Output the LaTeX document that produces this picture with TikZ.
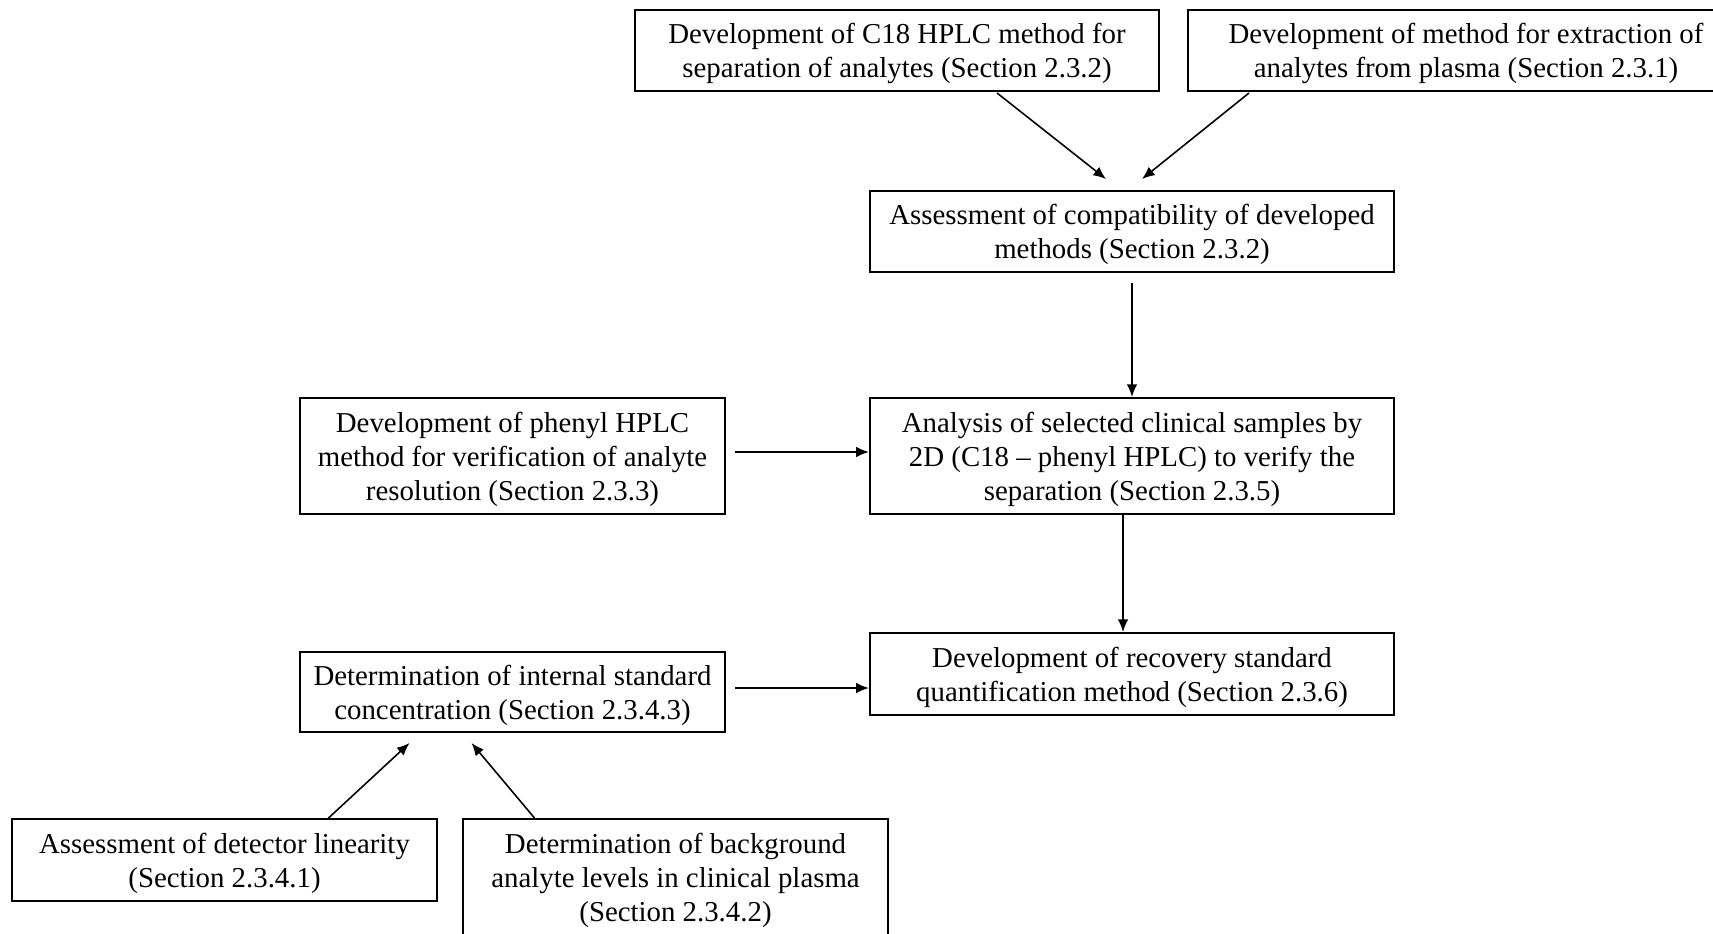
\documentclass[tikz,border=0pt]{standalone}
\usepackage{fontspec}
\setmainfont{Liberation Serif}
\usetikzlibrary{arrows.meta,calc}

\begin{document}
\begin{tikzpicture}[x=0.01cm,y=-0.01cm,>={Latex[length=3.6pt,width=3pt]},
  box/.style={draw,line width=0.55pt,align=center,inner sep=0pt,text depth=0pt,
    font=\fontsize{8.2}{9.7}\selectfont},
  link/.style={->,line width=0.45pt}]
\useasboundingbox (0,0) rectangle (1713,933);

\node[box,minimum width=5.24cm,minimum height=0.81cm] (c18) at (897,50.5)
  {Development of C18 HPLC method for\\separation of analytes (Section 2.3.2)};
\node[box,minimum width=5.56cm,minimum height=0.81cm] (extr) at (1466,50.5)
  {Development of method for extraction of\\analytes from plasma (Section 2.3.1)};
\node[box,minimum width=5.24cm,minimum height=0.81cm] (comp) at (1132,231.5)
  {Assessment of compatibility of developed\\methods (Section 2.3.2)};
\node[box,minimum width=4.25cm,minimum height=1.16cm] (phen) at (512.5,456)
  {Development of phenyl HPLC\\method for verification of analyte\\resolution (Section 2.3.3)};
\node[box,minimum width=5.24cm,minimum height=1.16cm] (anal) at (1132,456)
  {Analysis of selected clinical samples by\\2D (C18 -- phenyl HPLC) to verify the\\separation (Section 2.3.5)};
\node[box,minimum width=4.25cm,minimum height=0.80cm] (istd) at (512.5,692)
  {Determination of internal standard\\concentration (Section 2.3.4.3)};
\node[box,minimum width=5.24cm,minimum height=0.82cm] (reco) at (1132,674)
  {Development of recovery standard\\quantification method (Section 2.3.6)};
\node[box,minimum width=4.25cm,minimum height=0.82cm] (lin) at (224.5,860)
  {Assessment of detector linearity\\(Section 2.3.4.1)};
\node[box,minimum width=4.25cm,minimum height=1.16cm] (bkg) at (675.5,877)
  {Determination of background\\analyte levels in clinical plasma\\(Section 2.3.4.2)};

\draw[link] ($(c18.south)+(100,1)$) -- ($(comp.north)+(-26,-11)$);
\draw[link] ($(extr.south)+(-217,1)$) -- ($(comp.north)+(10,-11)$);
\draw[link] ($(comp.south)+(0,10)$) -- (anal.north);
\draw[link] ($(phen.east)+(9,-4)$) -- ($(anal.west)+(0,-4)$);
\draw[link] ($(anal.south)+(-9,0)$) -- ($(reco.north)+(-9,0)$);
\draw[link] ($(istd.east)+(9,-4)$) -- ($(reco.west)+(0,14)$);
\draw[link] ($(lin.north)+(104,0)$) -- ($(istd.south)+(-103,10)$);
\draw[link] ($(bkg.north)+(-141,0)$) -- ($(istd.south)+(-41,10)$);
\end{tikzpicture}
\end{document}
